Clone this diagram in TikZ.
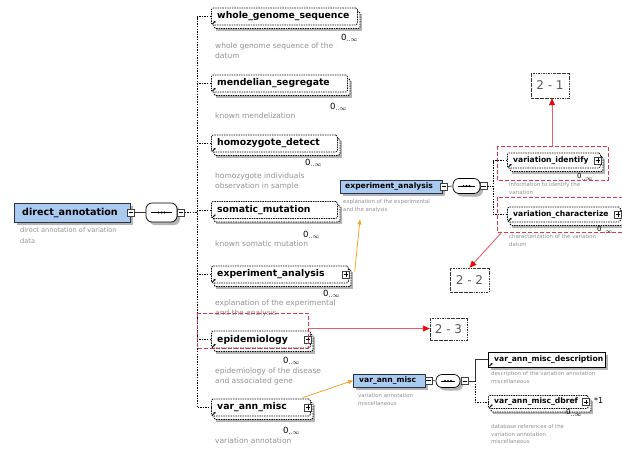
\documentclass[tikz,border=0pt]{standalone}
\usepackage{fontspec}
\setmainfont{DejaVu Sans}
\usetikzlibrary{arrows.meta,calc}
\definecolor{gblue}{RGB}{170,202,240}
\definecolor{gborder}{RGB}{40,50,70}
\definecolor{desccol}{RGB}{145,145,145}
\definecolor{shadowcol}{RGB}{180,180,180}
\definecolor{redbox}{RGB}{215,55,80}
\definecolor{redline}{RGB}{228,95,110}
\definecolor{redtip}{RGB}{235,10,10}
\definecolor{orng}{RGB}{240,165,40}
\tikzset{
  dpat/.style={dash pattern=on 1.4pt off 1pt, line width=0.75pt},
  elem/.style={draw=black, dpat, fill=white, rounded corners=1.5pt, anchor=west, inner sep=0pt},
  solidelem/.style={draw=black, fill=white, anchor=west, inner sep=0pt, line width=0.9pt},
  glob/.style={draw=gborder, fill=gblue, anchor=west, inner sep=0pt, line width=0.8pt},
  bigf/.style={font=\bfseries\fontsize{9.3}{9.3}\selectfont},
  midf/.style={font=\bfseries\fontsize{7.6}{7.6}\selectfont},
  desc/.style={anchor=north west, inner sep=0pt, align=left, text=desccol},
  descA/.style={desc, font=\fontsize{7.5}{10}\selectfont},
  descB/.style={desc, font=\fontsize{5.4}{7.8}\selectfont},
  descC/.style={desc, font=\fontsize{6.6}{11.5}\selectfont},
  mult/.style={anchor=east, inner sep=0pt, font=\fontsize{8.5}{8.5}\selectfont},
  smult/.style={anchor=east, inner sep=0pt, font=\fontsize{7}{7}\selectfont},
  sq/.style={draw=black!75, fill=white, minimum size=7pt, inner sep=0pt, line width=0.5pt},
  seqbox/.style={draw=black, fill=white, rounded corners=6pt, inner sep=0pt, line width=0.7pt},
  refbox/.style={draw=black!80, dash pattern=on 2.5pt off 1pt on 0.6pt off 1pt, fill=white, inner sep=0pt, font=\fontsize{12}{12}\selectfont, text=black!65},
  redrect/.style={draw=redbox, dash pattern=on 4pt off 2pt, line width=0.9pt},
  redarr/.style={draw=redline, line width=0.9pt, -{Triangle[length=7pt,width=6pt,fill=redtip,color=redtip]}},
  orarr/.style={draw=orng, line width=0.8pt, -{Triangle[length=5pt,width=4pt]}},
  conn/.style={draw=black, dash pattern=on 1.4pt off 1.2pt, line width=0.75pt},
  sconn/.style={draw=black!80, line width=0.7pt},
}
% name, x, yc, w, h, fontstyle, label
\newcommand\elm[7]{%
  \fill[shadowcol] (#2+5,#3-#5/2+5.5) rectangle ++(#4,#5);
  \draw[dpat, fill=white, rounded corners=1.5pt] (#2+3,#3-#5/2+3.5) rectangle ++(#4,#5);
  \node[elem, minimum width=#4pt, minimum height=#5pt] (#1) at (#2,#3) {};
  \node[anchor=west, inner sep=0pt, #6] (#1-t) at (#2+6,#3) {#7};
  \draw[line width=0.8pt, -{Stealth[length=1.8pt,width=2.2pt]}] (#2+1.5,#3+#5/2-1) -- (#2+4.5,#3+#5/2-4);
}
\newcommand\plusb[1]{%
  \node[sq] (#1-p) at ($(#1.east)+(-3,0)$) {};
  \draw[line width=0.5pt, shorten <=1.5pt, shorten >=1.5pt] (#1-p.north) -- (#1-p.south);
  \draw[line width=0.5pt, shorten <=1.5pt, shorten >=1.5pt] (#1-p.west) -- (#1-p.east);
}
\newcommand\minusb[2]{% name, position
  \node[sq] (#1) at (#2) {};
  \draw[line width=0.5pt, shorten <=1.5pt, shorten >=1.5pt] (#1.west) -- (#1.east);
}
% name, center, w, h
\newcommand\seqb[4]{%
  \fill[shadowcol, rounded corners=6pt] ($(#2)+(-#3/2+3,-#4/2+3)$) rectangle ++(#3,#4);
  \node[seqbox, minimum width=#3pt, minimum height=#4pt] (#1) at (#2) {};
  \draw[line width=0.8pt] ($(#1.center)+(-#3/2+5,0)$) -- ($(#1.center)+(#3/2-5,0)$);
  \foreach \dx in {-3,0,3} \fill ($(#1.center)+(\dx,0)$) circle (1.1pt);
}
\newcommand\infm{0\raisebox{-1.6pt}{\fontsize{6}{6}\selectfont..$\infty$}}
\begin{document}
\begin{tikzpicture}[x=1pt,y=-1pt]
\useasboundingbox (0,0) rectangle (622,448);

% ---------- root ----------
\fill[shadowcol] (17,206) rectangle ++(116,19);
\node[glob, minimum width=116pt, minimum height=19pt] (da) at (14,212.5) {};
\node[anchor=west, inner sep=0pt, font=\bfseries\fontsize{9.6}{9.6}\selectfont] (da-t) at (22,212.5) {direct\_annotation};
\minusb{da-m}{131,212.5}
\node[descC] (da-d) at (20,227) {direct annotation of variation\\data};
\seqb{s1}{161.5,212.5}{31}{19}
\minusb{s1-m}{181,212.5}
\draw[sconn] (da-m.east) -- (s1.west);

% ---------- children ----------
\elm{ws}{211}{16.5}{146}{17}{bigf}{whole\_genome\_sequence}
\elm{ms}{211}{83.5}{136}{17}{bigf}{mendelian\_segregate}
\elm{hd}{211}{143.5}{126}{17}{bigf}{homozygote\_detect}
\elm{sm}{211}{210}{126}{17}{bigf}{somatic\_mutation}
\elm{ea}{211}{274.5}{137}{17}{bigf}{experiment\_analysis}
\plusb{ea}
\elm{ep}{211}{339.5}{99}{17}{bigf}{epidemiology}
\plusb{ep}
\elm{va}{211}{407.5}{99}{17}{bigf}{var\_ann\_misc}
\plusb{va}

\draw[conn] (s1-m.east) -- (197,212.5);
\draw[conn] (ws.west) -- ++(-14,0) |- (va.west);
\foreach \n in {ms,hd,sm,ea,ep} \draw[conn] (\n.west) -- ++(-14,0);

\node[mult] (ws-m) at (358,38) {\infm};
\node[mult] (ms-m) at (347,107) {\infm};
\node[mult] (hd-m) at (322,163) {\infm};
\node[mult] (sm-m) at (320,235) {\infm};
\node[mult] (ea-m) at (340,294) {\infm};
\node[mult] (ep-m) at (300,361) {\infm};
\node[mult] (va-m) at (300,431) {\infm};

\node[descA] (ws-d) at (215,43) {whole genome sequence of the\\datum};
\node[descA] (ms-d) at (215,113) {known mendelization};
\node[descA] (hd-d) at (215,173) {homozygote individuals\\observation in sample};
\node[descA] (sm-d) at (215,241) {known somatic mutation};
\node[descA] (ea-d) at (215,300) {explanation of the experimental\\and the analysis};
\node[descA] (ep-d) at (215,368) {epidemiology of the disease\\and associated gene};
\node[descA] (va-d) at (215,438) {variation annotation};

% ---------- experiment_analysis global ----------
\fill[shadowcol] (343,183) rectangle ++(102,13);
\node[glob, minimum width=102pt, minimum height=13pt] (eg) at (340,186.5) {};
\node[anchor=west, inner sep=0pt, midf] (eg-t) at (345,186.5) {experiment\_analysis};
\minusb{eg-m}{444,186.5}
\node[descB] (eg-d) at (343,199) {explanation of the experimental\\and the analysis};
\seqb{s2}{466.5,186}{27}{15}
\minusb{s2-m}{483.5,186}
\draw[sconn] (eg-m.east) -- (s2.west);

\elm{vi}{507}{160.5}{93}{15}{midf}{variation\_identify}
\plusb{vi}
\elm{vc}{507}{214.5}{113}{15}{midf}{variation\_characterize}
\plusb{vc}
\draw[conn] (s2-m.east) -- (493,186);
\draw[conn] (vi.west) -- ++(-14,0) |- (vc.west);
\node[smult] (vi-m) at (593,177) {\infm};
\node[smult] (vc-m) at (613,230) {\infm};
\node[descB] (vi-d) at (509,182) {information to identify the\\variation};
\node[descB] (vc-d) at (509,234) {characterization of the variation\\datum};

% ---------- var_ann_misc global ----------
\fill[shadowcol] (356,377) rectangle ++(72,13);
\node[glob, minimum width=72pt, minimum height=13pt] (vg) at (353,380.5) {};
\node[anchor=west, inner sep=0pt, midf] (vg-t) at (359,380.5) {var\_ann\_misc};
\minusb{vg-m}{428.5,380.5}
\node[descB] (vg-d) at (358,393) {variation annotation\\miscellaneous};
\seqb{s3}{448,381}{24}{13}
\minusb{s3-m}{465,381}
\draw[sconn] (vg-m.east) -- (s3.west);

\fill[shadowcol] (491,355) rectangle ++(117,15);
\node[solidelem, minimum width=117pt, minimum height=15pt] (vd) at (488,359.5) {};
\node[anchor=west, inner sep=0pt, midf] (vd-t) at (494,359.5) {var\_ann\_misc\_description};
\draw[line width=0.8pt, -{Stealth[length=1.8pt,width=2.2pt]}] (489.5,366) -- (492.5,363);
\elm{vb}{488}{402}{100}{13}{midf}{var\_ann\_misc\_dbref}
\plusb{vb}
\coordinate (jn) at (475,381);
\draw[sconn] (s3-m.east) -- (jn);
\draw[sconn] (jn) |- (vd.west);
\draw[conn] (jn) |- (vb.west);
\node[smult] (vb-m) at (582,413) {\infm};
\node[anchor=west, inner sep=0pt, font=\fontsize{8}{8}\selectfont] (vb-x) at (594,401) {*1};
\node[descB] (vd-d) at (491,371) {description of the variation annotation\\miscellaneous};
\node[descB] (vb-d) at (491,424) {database references of the\\variation annotation\\miscellaneous};

% ---------- red callouts ----------
\node[refbox, minimum width=38pt, minimum height=25pt] (r1) at (550,85.5) {2 - 1};
\node[refbox, minimum width=39pt, minimum height=24pt] (r2) at (469.5,280) {2 - 2};
\node[refbox, minimum width=37pt, minimum height=22pt] (r3) at (448.5,329) {2 - 3};

\draw[redrect] (497,146) rectangle (608,180);
\coordinate (vi-top) at (552,146);
\draw[redarr] (vi-top) -- (vi-top |- r1.south);

\draw[redrect] (497,197) rectangle (624,232);
\coordinate (vc-bl) at (502,232);
\draw[redarr] (vc-bl) -- (r2.north);

\draw[redrect] (197,313) rectangle (308,348);
\coordinate (ep-r) at (308,328.5);
\draw[redarr] (ep-r) -- (ep-r -| r3.west);

% ---------- orange arrows ----------
\draw[orarr] ($(ea.east)+(6,-3)$) -- ($(eg.south west)+(20,26)$);
\draw[orarr] ($(va.north east)+(-8,-1)$) -- (vg.west);
\end{tikzpicture}
\end{document}
